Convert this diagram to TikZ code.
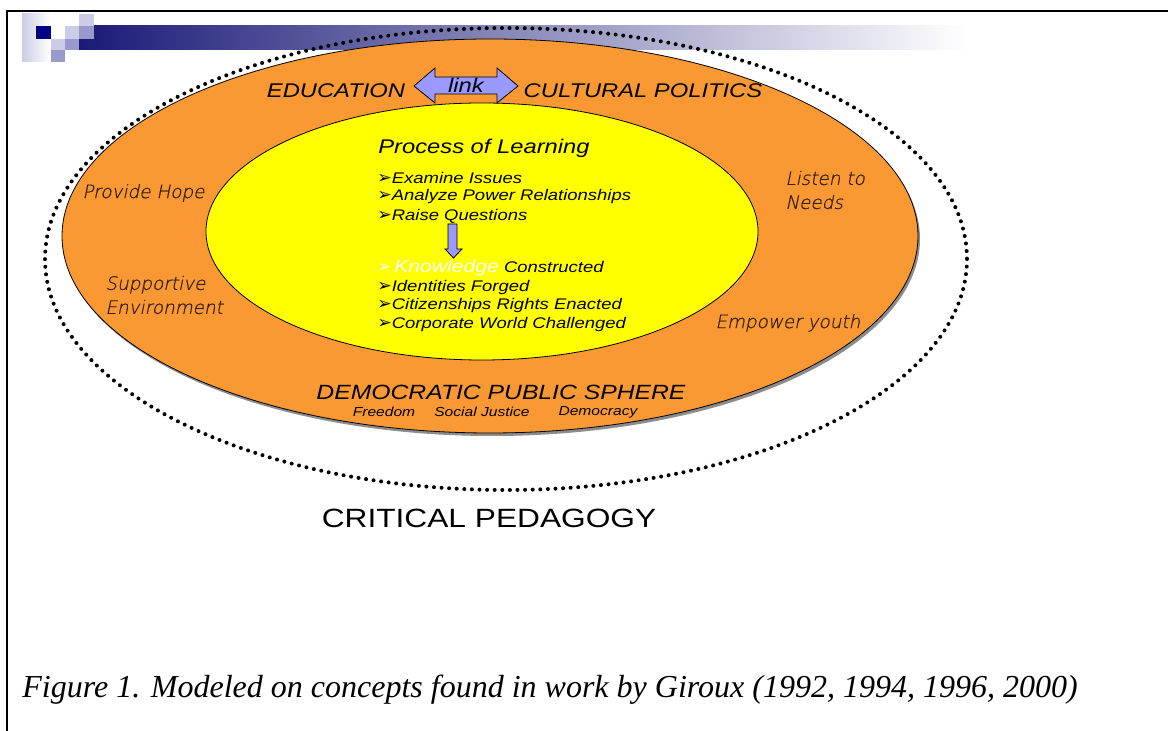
\documentclass[tikz,border=0pt]{standalone}
\usepackage{fontspec}
\setmainfont{Liberation Sans}[FakeStretch=1.2]
\newfontfamily\capfont{Liberation Serif}
\newfontfamily\handfont{DejaVu Sans ExtraLight}[FakeSlant=0.2, FakeBold=0.6]
\newfontfamily\symfont{DejaVu Sans}

\definecolor{ringorange}{RGB}{250,153,51}
\definecolor{coreyellow}{RGB}{255,255,0}
\definecolor{linkblue}{RGB}{153,153,255}
\definecolor{handbrown}{RGB}{50,30,15}
\definecolor{logonavy}{RGB}{0,0,128}
\definecolor{barnavy}{RGB}{26,26,120}
\definecolor{logolight}{RGB}{204,204,230}
\definecolor{logomid}{RGB}{153,153,204}

\newcommand{\arrowbul}{{\symfont\fontsize{8.6}{9.5}\selectfont\char"27A2}}

\tikzset{
  headtxt/.style={font=\fontsize{9.9}{12}\selectfont\itshape},
  listtxt/.style={font=\fontsize{7.7}{9.5}\selectfont\itshape, anchor=west, inner sep=0pt},
  handtxt/.style={font=\fontsize{9.2}{12}\selectfont\handfont, text=handbrown, align=left, inner sep=0pt},
  valuetxt/.style={font=\fontsize{6.5}{8}\selectfont\itshape, inner sep=0pt},
  fatarrow/.style={fill=linkblue, draw=black, line width=0.4pt, line join=miter},
}

\begin{document}
\begin{tikzpicture}[x=0.5pt, y=-0.5pt]
	\useasboundingbox (0,0) rectangle (1168,731);
	% frame
	\draw[line width=1.1pt] (7,731) -- (7,11) -- (1168,11);
	% title bar
	\shade[left color=logolight, right color=white] (22,14) rectangle (50,62);
	\shade[left color=barnavy, right color=white] (79,26) rectangle (967,50);
	\fill[logonavy]  (36,26) rectangle (51,39);
	\fill[logolight] (51,39) rectangle (65,50);
	\fill[logomid]   (51,50) rectangle (65,62);
	\fill[logolight] (65,26) rectangle (79,39);
	\fill[logomid]   (65,39) rectangle (79,50);
	\fill[logolight] (79,14) rectangle (94,26);
	\fill[logomid]   (79,26) rectangle (94,39);
	% rings
	\draw[line width=2pt, line cap=round, dash pattern=on 0pt off 3.8pt] (506,259) ellipse (461 and 231);
	\fill[black!45] (492,239) ellipse (428 and 197);
	\draw[fill=ringorange, line width=0.4pt] (490,236) ellipse (428 and 197);
	\draw[fill=coreyellow, line width=0.4pt] (482,231.5) ellipse (276 and 128.5);
	% link arrow
	\draw[fatarrow] (414,86) -- (435,68) -- (435,77) -- (497,77) -- (497,68) -- (518,86)
		-- (497,103) -- (497,94) -- (435,94) -- (435,103) -- cycle;
	\node (link) at (466,93)[headtxt, anchor=base] {link};
	\node (educ) at (336,91)[headtxt] {EDUCATION};
	\node (cult) at (643,91)[headtxt] {CULTURAL POLITICS};
	% process of learning
	\node (proc) at (484,148)[headtxt] {Process of Learning};
	\node (exam) at (377,178)[listtxt] {\arrowbul Examine Issues};
	\node (anal) at (377,197)[listtxt] {\arrowbul Analyze Power Relationships};
	\node (rais) at (377,216)[listtxt] {\arrowbul Raise Questions};
	\draw[fatarrow] (448,224) -- (457,224) -- (457,249) -- (462,249) -- (453.5,258)
		-- (445,249) -- (448,249) -- cycle;
	\node (know) at (377,268)[listtxt] {{\color{white}\arrowbul\,\fontsize{8.8}{10}\selectfont Knowledge} Constructed};
	\node (iden) at (377,288)[listtxt] {\arrowbul Identities Forged};
	\node (citi) at (377,306)[listtxt] {\arrowbul Citizenships Rights Enacted};
	\node (corp) at (377,325)[listtxt] {\arrowbul Corporate World Challenged};
	% hand written notes
	\node (hope) at (82,193)[handtxt, anchor=west] {Provide Hope};
	\node (supp) at (105,295)[handtxt, anchor=west] {Supportive\\Environment};
	\node (lstn) at (785,190)[handtxt, anchor=west] {Listen to\\Needs};
	\node (empw) at (715,323)[handtxt, anchor=west] {Empower youth};
	% public sphere
	\node (demo) at (501,392)[headtxt, font=\fontsize{10.3}{12}\selectfont\itshape] {DEMOCRATIC PUBLIC SPHERE};
	\node (free) at (384,412)[valuetxt] {Freedom};
	\node (just) at (482,412)[valuetxt] {Social Justice};
	\node (dmcy) at (598,412)[valuetxt] {Democracy};
	% titles
	\node (crit) at (489,518)[font=\fontsize{13.2}{16}\selectfont] {CRITICAL PEDAGOGY};
	\node (capt) at (22,690)[anchor=west, inner sep=0pt, font=\fontsize{16}{19}\selectfont\capfont\itshape]
		{Figure 1. Modeled on concepts found in work by Giroux (1992, 1994, 1996, 2000)};
\end{tikzpicture}
\end{document}
